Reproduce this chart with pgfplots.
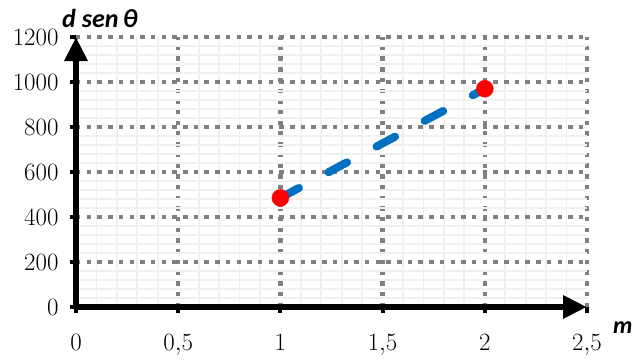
\documentclass[border=0pt]{standalone}
\usepackage{pgfplots}
\pgfplotsset{compat=1.18}
\usetikzlibrary{arrows.meta}
\usepackage{fontspec}
\setmainfont{Liberation Serif}
\newfontfamily\lblfont{Carlito}
\newfontfamily\tickfont{Liberation Serif}
\definecolor{xlblue}{RGB}{0,112,192}
\begin{document}
\begin{tikzpicture}[x=1pt,y=1pt]
\useasboundingbox (-76,-53) rectangle (560,307);
\begin{axis}[
  at={(0,0)}, anchor=south west,
  scale only axis, width=511pt, height=270pt,
  xmin=0, xmax=2.5, ymin=0, ymax=1200,
  xtick={0,0.5,1,1.5,2,2.5}, ytick={0,200,400,600,800,1000,1200},
  minor x tick num=4, minor y tick num=4,
  grid=both,
  major grid style={black!50, line width=4.5pt, dash pattern=on 4.5pt off 6.2pt},
  minor grid style={black!6, line width=1.8pt},
  axis lines=left,
  axis line style={black, line width=6.5pt, -{Triangle[length=24pt,width=22pt]}},
  tick style={black, line width=4pt},
  major tick length=6pt, minor tick length=0pt, tick align=outside,
  /pgf/number format/use comma,
  /pgf/number format/1000 sep={},
  scaled y ticks=false,
  xticklabel={\tickfont\fontsize{24}{26}\selectfont\pgfmathprintnumber{\tick}},
  yticklabel={\tickfont\fontsize{24}{26}\selectfont\pgfmathprintnumber{\tick}},
  xticklabel style={anchor=base, yshift=-37pt},
  yticklabel style={anchor=east, xshift=-8pt},
  clip=false,
]
\addplot[only marks, mark=*, mark size=8.5pt, color=red] coordinates {(1,485) (2,970)};
\addplot[color=xlblue, line width=8pt, dash pattern=on 21pt off 33.5pt, line cap=round] coordinates {(1,485) (2,970)};
\end{axis}
\node[anchor=base west, inner sep=0pt, font=\lblfont\bfseries\itshape\fontsize{26}{28}\selectfont] at (-14,280) {d sen\,θ};
\node[anchor=base west, inner sep=0pt, font=\lblfont\bfseries\itshape\fontsize{24}{26}\selectfont] at (537,-26) {m};
\end{tikzpicture}
\end{document}
